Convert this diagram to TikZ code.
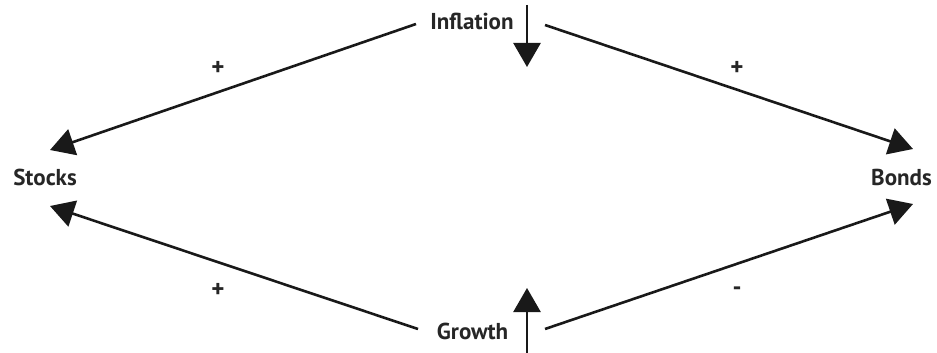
\documentclass[tikz,border=0pt]{standalone}
\usepackage{fontspec}
\setmainfont{PT Sans}
\usetikzlibrary{arrows.meta}
\begin{document}
\begin{tikzpicture}[x=1pt,y=-1pt,
  lbl/.style={font=\bfseries\fontsize{23}{26}\selectfont, inner sep=0pt, anchor=base, text=black!85},
  sgn/.style={font=\bfseries\fontsize{25}{28}\selectfont, inner sep=0pt, text=black!85},
  conn/.style={line width=2.6pt, draw=black!90, -{Triangle[length=24pt,width=27pt]}}]
\useasboundingbox (0,0) rectangle (937,353);
\node[lbl] (inf) at (472,29.3) {Inflation};
\node[lbl] (gro) at (472.5,339) {Growth};
\node[lbl] (sto) at (45,185) {Stocks};
\node[lbl] (bon) at (901.5,185) {Bonds};
\coordinate (infL) at (416,24);
\coordinate (infR) at (545,25);
\coordinate (groL) at (418,329);
\coordinate (groR) at (545,329);
\coordinate (stoU) at (50,150);
\coordinate (stoD) at (50,206);
\coordinate (bonU) at (913,149);
\coordinate (bonD) at (913,204);
\coordinate (infA) at (527,5);
\coordinate (infB) at (527,67);
\coordinate (groA) at (527,353);
\coordinate (groB) at (527,288);
\draw[conn] (infL) -- (stoU);
\draw[conn] (infR) -- (bonU);
\draw[conn] (groL) -- (stoD);
\draw[conn] (groR) -- (bonD);
\draw[conn] (infA) -- (infB);
\draw[conn] (groA) -- (groB);
\node[sgn] (s1) at (218,68) {+};
\node[sgn] (s2) at (737,68) {+};
\node[sgn] (s3) at (218,290) {+};
\node[sgn] (s4) at (737,291) {-};
\end{tikzpicture}
\end{document}
